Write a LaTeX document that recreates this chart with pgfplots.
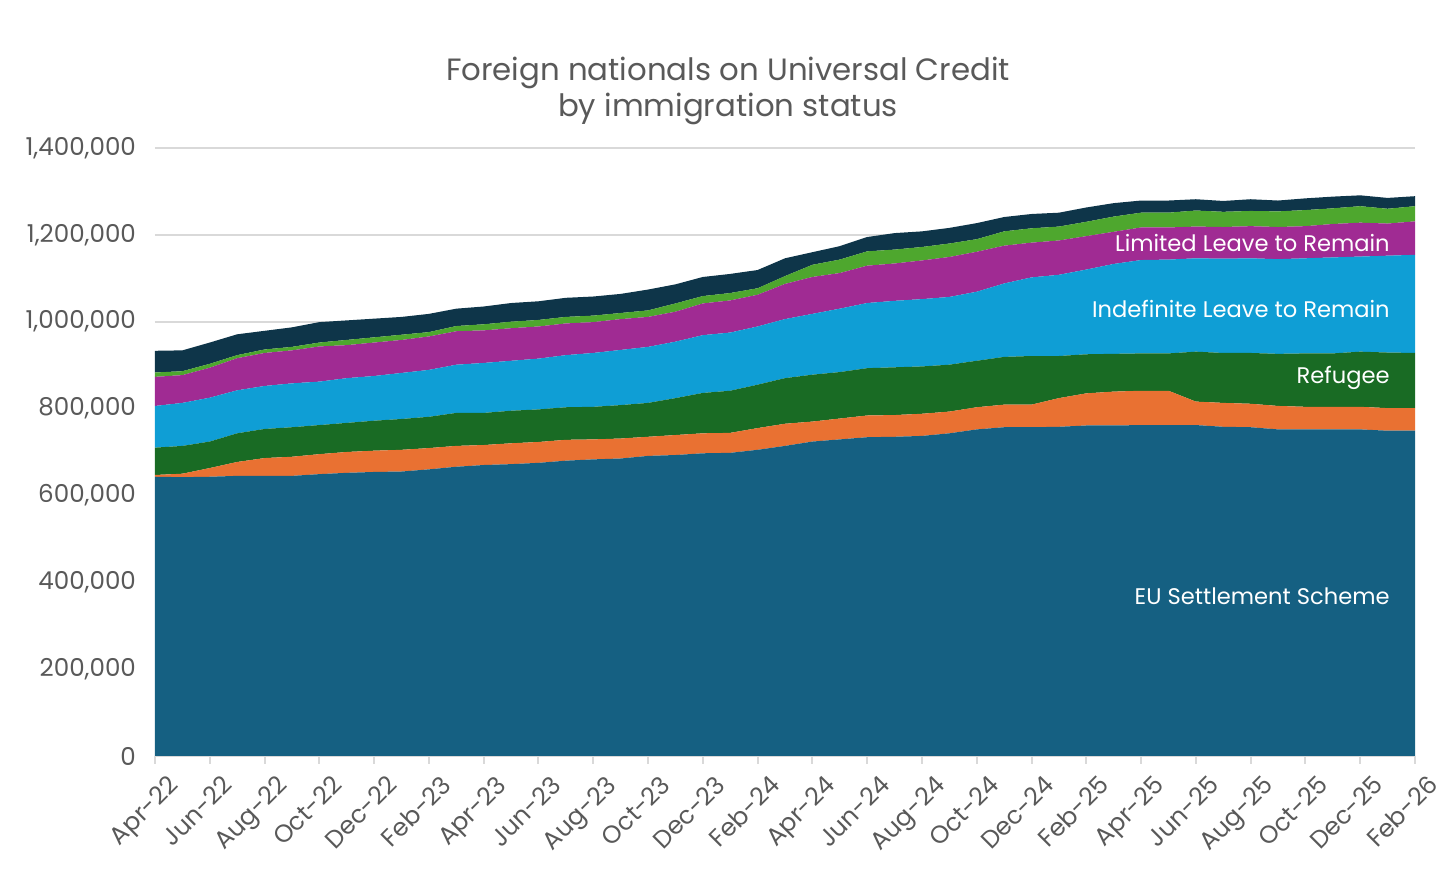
\documentclass[border=0pt]{standalone}
\usepackage{pgfplots}
\pgfplotsset{compat=1.18}
\usepackage{pgfplotstable}
\usepackage{fontspec}
\setmainfont{Poppins}
\definecolor{cEU}{HTML}{156082}
\definecolor{cOr}{HTML}{E97132}
\definecolor{cRef}{HTML}{196B24}
\definecolor{cILR}{HTML}{0F9ED5}
\definecolor{cLLR}{HTML}{A02B93}
\definecolor{cLG}{HTML}{4EA72E}
\definecolor{cNv}{HTML}{0E3549}
\definecolor{txt}{HTML}{595959}
\definecolor{grd}{HTML}{D9D9D9}
\pgfplotstableread{
i EU Or Ref ILR LLR LG Nv
0 643000 4000 63000 96000 67000 10000 50000
1 642000 8000 64000 99000 64000 9000 48000
2 643000 20000 61000 101000 69000 9000 49000
3 645000 32000 66000 99000 74000 7000 48000
4 645000 41000 67000 99000 76000 8000 43000
5 645000 44000 68000 101000 76000 8000 45000
6 649000 46000 67000 100000 81000 9000 47000
7 652000 48000 67000 103000 76000 12000 45000
8 654000 49000 69000 103000 77000 12000 43000
9 655000 50000 71000 106000 76000 12000 41000
10 660000 49000 72000 108000 77000 10000 42000
11 666000 48000 76000 111000 77000 12000 40000
12 670000 46000 74000 115000 75000 14000 41000
13 672000 48000 75000 115000 75000 15000 43000
14 675000 48000 75000 117000 74000 15000 43000
15 680000 48000 75000 120000 73000 15000 44000
16 683000 46000 75000 124000 71000 15000 44000
17 685000 46000 77000 127000 71000 14000 44000
18 691000 44000 78000 129000 69000 15000 48000
19 693000 46000 85000 130000 69000 19000 44000
20 697000 46000 93000 133000 73000 17000 44000
21 698000 46000 97000 134000 74000 17000 44000
22 705000 50000 100000 134000 73000 15000 42000
23 714000 51000 105000 136000 81000 18000 41000
24 724000 46000 108000 140000 85000 28000 29000
25 729000 48000 107000 146000 82000 31000 31000
26 734000 50000 109000 150000 86000 33000 33000
27 735000 50000 110000 153000 86000 32000 38000
28 737000 51000 109000 155000 89000 31000 36000
29 743000 50000 108000 156000 92000 31000 36000
30 752000 51000 107000 159000 92000 29000 37000
31 757000 52000 110000 169000 87000 33000 33000
32 757000 52000 112000 181000 80000 33000 33000
33 758000 66000 97000 187000 79000 32000 32000
34 761000 74000 90000 195000 77000 33000 33000
35 761000 78000 87000 207000 74000 35000 31000
36 762000 79000 86000 215000 75000 34000 28000
37 762000 79000 86000 216000 74000 34000 28000
38 762000 54000 115000 215000 73000 37000 26000
39 758000 55000 115000 217000 73000 35000 25000
40 757000 54000 117000 218000 74000 35000 27000
41 752000 54000 120000 218000 74000 36000 25000
42 752000 52000 123000 219000 74000 37000 27000
43 752000 52000 123000 221000 77000 36000 27000
44 752000 52000 127000 219000 78000 38000 25000
45 749000 52000 128000 223000 74000 34000 25000
46 749000 52000 127000 226000 77000 35000 23000
}\data
\begin{document}
\begin{tikzpicture}
\begin{axis}[
  scale only axis, width=630pt, height=304pt,
  xmin=0, xmax=46, ymin=0, ymax=1400000,
  stack plots=y, area style, axis on top=false,
  axis x line*=bottom, axis y line*=left,
  x axis line style={draw=grd, line width=1pt},
  y axis line style={draw=none},
  ytick={0,200000,...,1400000},
  ymajorgrids, grid style={draw=grd, line width=0.8pt},
  ytick style={draw=none},
  xtick={0,2,...,46},
  xticklabels={Apr-22,Jun-22,Aug-22,Oct-22,Dec-22,Feb-23,Apr-23,Jun-23,Aug-23,Oct-23,Dec-23,Feb-24,Apr-24,Jun-24,Aug-24,Oct-24,Dec-24,Feb-25,Apr-25,Jun-25,Aug-25,Oct-25,Dec-25,Feb-26},
  xtick style={draw=grd, line width=1pt},
  xtick align=outside, major tick length=4pt,
  x tick label style={rotate=45, anchor=north east, xshift=4pt, yshift=-4pt},
  scaled y ticks=false,
  y tick label style={/pgf/number format/fixed, /pgf/number format/1000 sep={,}, xshift=-6pt},
  /pgf/number format/assume math mode=true,
  tick label style={font=\fontsize{12.3}{14}\selectfont, text=txt},
  clip=false,
]
\addplot[fill=cEU, draw=none] table[x=i,y=EU]{\data} \closedcycle;
\addplot[fill=cOr, draw=none] table[x=i,y=Or]{\data} \closedcycle;
\addplot[fill=cRef, draw=none] table[x=i,y=Ref]{\data} \closedcycle;
\addplot[fill=cILR, draw=none] table[x=i,y=ILR]{\data} \closedcycle;
\addplot[fill=cLLR, draw=none] table[x=i,y=LLR]{\data} \closedcycle;
\addplot[fill=cLG, draw=none] table[x=i,y=LG]{\data} \closedcycle;
\addplot[fill=cNv, draw=none] table[x=i,y=Nv]{\data} \closedcycle;
\end{axis}
\begin{scope}[every node/.style={anchor=east, text=white, font=\fontsize{11.3}{13}\selectfont, inner sep=0pt}]
\node at (617.5pt,256.5pt) {Limited Leave to Remain};
\node at (617.5pt,223.5pt) {Indefinite Leave to Remain};
\node at (617.5pt,189pt) {Refugee};
\node at (617.5pt,80pt) {EU Settlement Scheme};
\end{scope}
\node[align=center, text=txt, font=\fontsize{15.4}{18}\selectfont] at (286.5pt,332.5pt) {Foreign nationals on Universal Credit\\by immigration status};
\path (-77.5pt,-57pt) rectangle (650.5pt,378pt);
\end{tikzpicture}
\end{document}
